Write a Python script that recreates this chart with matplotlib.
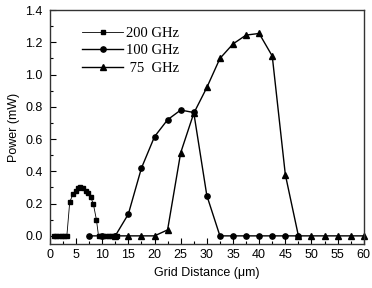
#!/usr/bin/env python3

import numpy as np
import matplotlib
matplotlib.use('Agg')
import matplotlib.pyplot as plt
from matplotlib.ticker import MultipleLocator

# 200 GHz grid
x200 = [0.75, 1.25, 1.75, 2.25, 2.75, 3.25, 3.8, 4.45, 4.95, 5.4, 5.85, 6.35, 6.85,
        7.3, 7.8, 8.3, 8.9, 9.3, 9.75, 10.25, 10.75, 11.25, 11.75, 12.25, 12.75]
p200 = [0, 0, 0, 0, 0, 0, 0.21, 0.26, 0.28, 0.295, 0.30, 0.295, 0.28,
        0.265, 0.24, 0.20, 0.10, 0, 0, 0, 0, 0, 0, 0, 0]

# 100 GHz grid
x100 = [7.5, 10, 12.5, 15, 17.5, 20, 22.5, 25, 27.5, 30, 32.5, 35, 37.5, 40, 42.5, 45, 47.5]
p100 = [0, 0, 0, 0.135, 0.42, 0.615, 0.72, 0.78, 0.765, 0.25, 0, 0, 0, 0, 0, 0, 0]

# 75 GHz grid
x75 = [12.5, 15, 17.5, 20, 22.5, 25, 27.5, 30, 32.5, 35, 37.5, 40, 42.5, 45, 47.5,
       50, 52.5, 55, 57.5, 60]
p75 = [0, 0, 0, 0, 0.037, 0.515, 0.76, 0.92, 1.10, 1.19, 1.245, 1.255, 1.115, 0.38, 0,
       0, 0, 0, 0, 0]

plt.rcParams['font.family'] = ['Liberation Sans', 'DejaVu Sans']

fig = plt.figure(figsize=(3.72, 2.88), dpi=100)
ax = fig.add_axes([0.134, 0.153, 0.844, 0.812])

ax.plot(x200, p200, '-s', color='black', lw=0.6, ms=3.3, label='200 GHz', clip_on=False)
ax.plot(x100, p100, '-o', color='black', lw=1.0, ms=3.8, label='100 GHz', clip_on=False)
ax.plot(x75, p75, '-^', color='black', lw=1.0, ms=3.8, label=' 75  GHz', clip_on=False)

ax.set_xlim(0, 60)
ax.set_ylim(-0.05, 1.4)
ax.xaxis.set_major_locator(MultipleLocator(5))
ax.xaxis.set_minor_locator(MultipleLocator(2.5))
ax.yaxis.set_minor_locator(MultipleLocator(0.1))
ax.set_yticks(np.arange(0, 1.41, 0.2))
ax.set_yticklabels(['%.1f' % v for v in np.arange(0, 1.41, 0.2)])
ax.tick_params(which='both', direction='in', labelsize=9)
ax.tick_params(axis='y', pad=5)
ax.tick_params(axis='x', pad=4)
ax.tick_params(which='major', length=4, width=0.8)
ax.tick_params(which='minor', length=2, width=0.8)
for s in ax.spines.values():
    s.set_linewidth(1.0)
    s.set_color('#333333')

ax.set_xlabel('Grid Distance (\u03bcm)', fontsize=9, labelpad=4)
ax.set_ylabel('Power (mW)', fontsize=9, labelpad=4)

ax.legend(loc='upper left', bbox_to_anchor=(0.085, 0.955), frameon=False,
          prop={'family': 'Liberation Serif', 'size': 10.5},
          handlelength=2.8, handletextpad=0.2, labelspacing=0.3, borderaxespad=0)

fig.savefig('out.png', dpi=100)
